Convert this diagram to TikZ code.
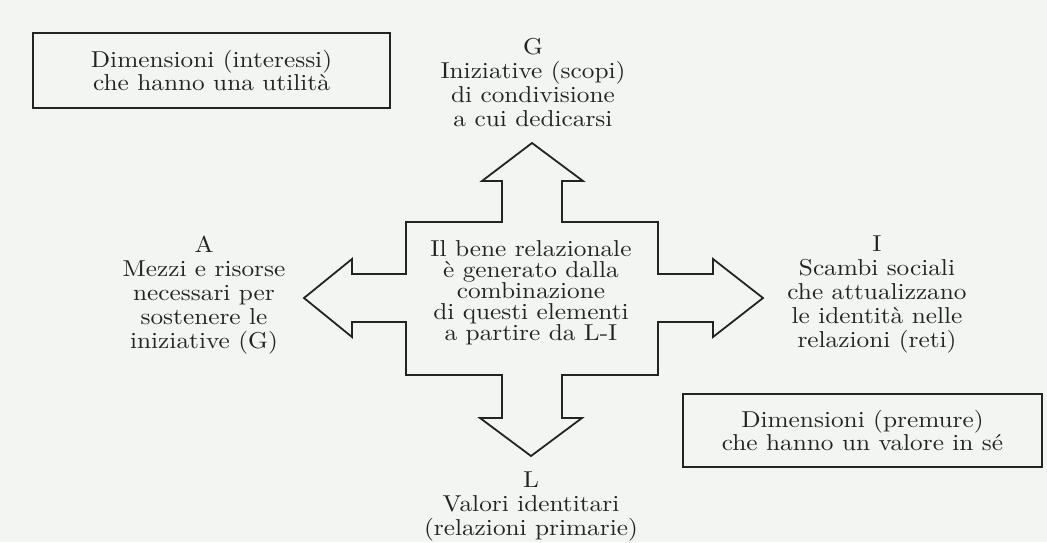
\documentclass[tikz,border=0pt]{standalone}
\usepackage{fontspec}
\setmainfont{lmroman10-regular}[Extension=.otf, FakeStretch=1.1]
\definecolor{paper}{RGB}{243,245,242}
\definecolor{ink}{RGB}{35,35,35}
\tikzset{
  lbl/.style={align=center, inner sep=0pt, text=ink, font=\fontsize{23}{24}\selectfont},
  ctr/.style={align=center, inner sep=0pt, text=ink, font=\fontsize{23}{21}\selectfont},
  dimbox/.style={draw=ink, line width=1.8pt, align=center, text=ink,
    font=\fontsize{23}{21}\selectfont, inner sep=0pt},
  crossline/.style={draw=ink, line width=1.8pt, line join=miter}
}
\begin{document}
\begin{tikzpicture}[x=1pt,y=-1pt]
\fill[paper] (0,0) rectangle (1047,542);
\useasboundingbox (0,0) rectangle (1047,542);

% cross of four arrows
\draw[crossline]
  (532,143) -- (583,181) -- (562,181) -- (562,222) -- (658,222) -- (658,274)
  -- (713,274) -- (713,259) -- (763,298) -- (713,337) -- (713,322)
  -- (658,322) -- (658,375) -- (562,375) -- (562,418) -- (582,418)
  -- (531,456) -- (480,418) -- (502,418) -- (502,375) -- (406,375)
  -- (406,322) -- (352,322) -- (352,337) -- (304,298) -- (352,259)
  -- (352,274) -- (406,274) -- (406,222) -- (502,222) -- (502,181)
  -- (482,181) -- cycle;

% boxes
\node[dimbox, minimum width=357pt, minimum height=75pt] (boxU) at (211.5,70.5)
  {Dimensioni (interessi)\\che hanno una utilità};
\node[dimbox, minimum width=359pt, minimum height=73pt] (boxV) at (862.5,430.5)
  {Dimensioni (premure)\\che hanno un valore in sé};

% labels
\node[lbl, anchor=north] (G) at (533,38)
  {G\\Iniziative (scopi)\\di condivisione\\a cui dedicarsi};
\node[lbl, anchor=north] (A) at (204,236)
  {A\\Mezzi e risorse\\necessari per\\sostenere le\\iniziative (G)};
\node[lbl, anchor=north] (I) at (877,236)
  {I\\Scambi sociali\\che attualizzano\\le identità nelle\\relazioni (reti)};
\node[lbl, anchor=north] (L) at (531,472)
  {L\\Valori identitari\\(relazioni primarie)};
\node[ctr, anchor=north] (C) at (531,240)
  {Il bene relazionale\\è generato dalla\\combinazione\\di questi elementi\\a partire da L-I};
\end{tikzpicture}
\end{document}
